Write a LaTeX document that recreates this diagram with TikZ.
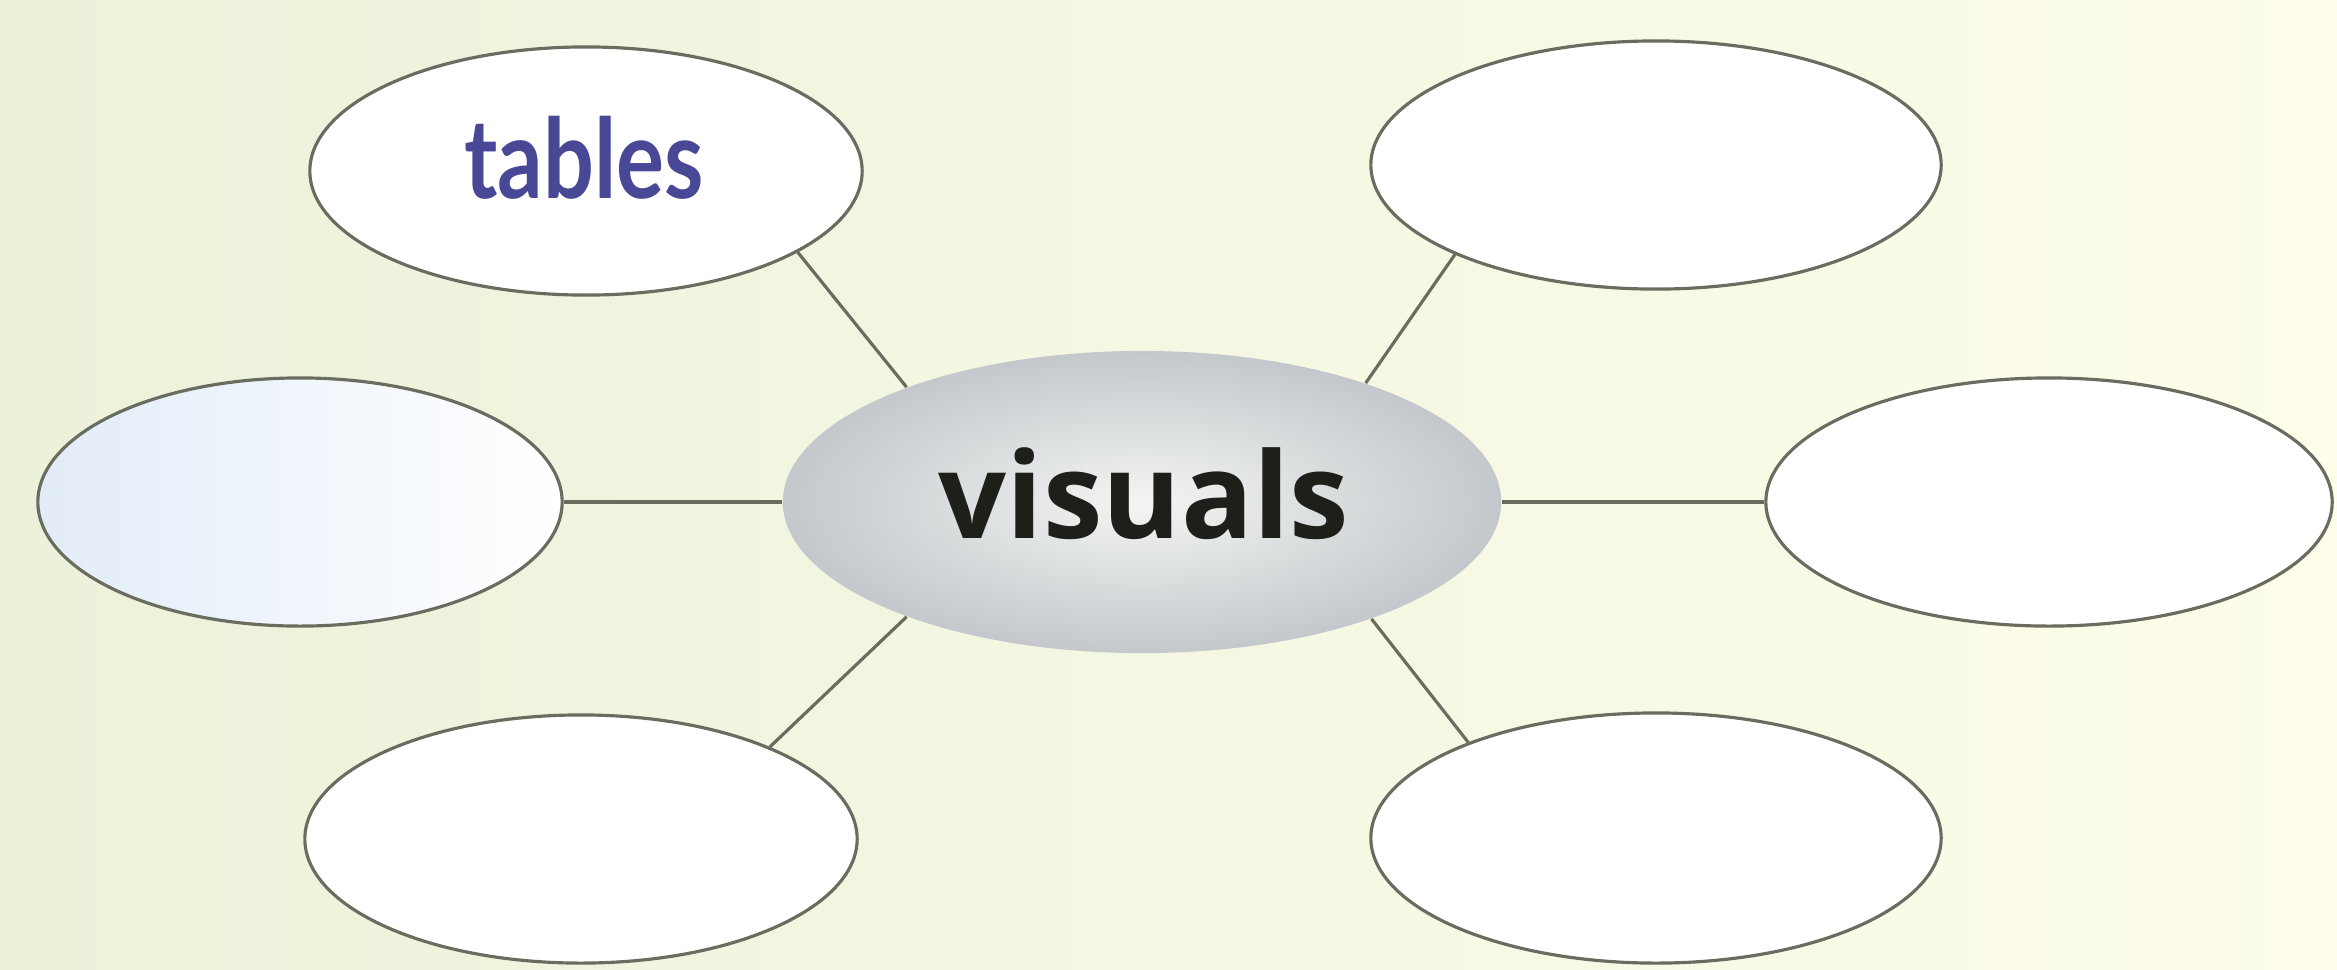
\documentclass[tikz,border=0pt]{standalone}
\usepackage{fontspec}
\usetikzlibrary{shapes.geometric}
\newfontfamily\visfont{Open Sans}
\newfontfamily\tabfont[FakeStretch=0.81]{Lato}
\definecolor{bgl}{RGB}{236,241,218}
\definecolor{bgr}{RGB}{253,253,234}
\definecolor{edge}{RGB}{105,108,95}
\definecolor{tabblue}{RGB}{72,72,150}
\definecolor{visdark}{RGB}{30,30,26}
\begin{document}
\begin{tikzpicture}[x=0.01cm,y=-0.01cm,
  bubble/.style={ellipse,draw=edge,line width=0.9pt,fill=white,inner sep=0pt,
    minimum width=5.6cm,minimum height=2.48cm},
  link/.style={draw=edge,line width=0.9pt}]
\shade[left color=bgl,right color=bgr] (0,0) rectangle (2337,969);
\useasboundingbox (0,0) rectangle (2337,969);
\node[bubble,minimum width=5.52cm,fill=white!97!blue!3] (tables) at (586,171) {};
\node[text=tabblue,font=\tabfont\bfseries\fontsize{31.5}{36}\selectfont] (tablestext) at (584,158) {tables};
\node[bubble,minimum width=5.70cm] (tr) at (1656,165) {};
\node[bubble,minimum width=5.24cm,shading=axis,left color={rgb,255:red,226;green,236;blue,248},right color=white] (ml) at (300,502) {};
\node[bubble,minimum width=5.66cm] (mr) at (2049,502) {};
\node[bubble,minimum width=5.52cm] (bl) at (581,839) {};
\node[bubble,minimum width=5.70cm,minimum height=2.50cm] (br) at (1656,838) {};
\node[ellipse,inner sep=0pt,minimum width=7.18cm,minimum height=3.02cm,
  shading=radial,inner color={rgb,255:red,243;green,245;blue,243},
  outer color={rgb,255:red,196;green,200;blue,204}] (c) at (1142,502) {};
\node[text=visdark,font=\visfont\bfseries\fontsize{34}{40}\selectfont] (ctext) at (1144,494) {visuals};
\draw[link] (tables.-21) -- (c.154);
\draw[link] (tr.-156) -- (c.28);
\draw[link] (ml.east) -- (c.west);
\draw[link] (mr.west) -- (c.east);
\draw[link] (bl.26) -- (c.206);
\draw[link] (br.153) -- (c.-27);
\end{tikzpicture}
\end{document}
